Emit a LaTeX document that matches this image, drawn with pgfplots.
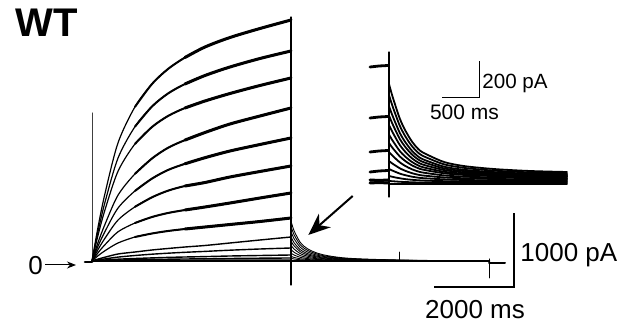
\documentclass[border=0pt]{standalone}
\usepackage{fontspec}
\setmainfont{Liberation Sans}
\usepackage{pgfplots}
\usepackage{pgfplotstable}
\pgfplotsset{compat=1.18}
\usetikzlibrary{arrows.meta}

% activating currents (x in px, y in px from top)
\pgfplotstableread{
x t1 t2 t3 t4 t5 t6 t7 t8 t9 t10 t11 t12 t13
92 261 261 261 261 261 261 261 261 261 261 261 261 261
98 227.3 231.6 235.4 242.6 246.2 249.6 252.8 255.8 259.1 260 260.5 260.8 260.9
105 193.5 202.2 209.8 224.3 231.5 238.2 244.7 250.7 257.2 258.9 260 260.5 260.8
118 142.9 158.1 171.3 195.2 208.1 220.1 231.8 243 254 257.1 259.2 260.1 260.7
135 106.8 126.6 143.9 173.8 190.9 206.8 223 237 252 255.5 258.5 259.7 260.6
152 84 106.5 127 158.5 178.6 197.3 217 233.5 250 254.2 257.9 259.4 260.5
168 69 93.5 116 147.8 170 190.7 213 231 248.5 253.2 257.4 259.2 260.4
185 57.5 84 108 140.1 163.8 186 210 229 247 252.3 257 259 260.3
205 47 75.5 101 132.5 157.7 182.5 207 227 245.5 251.4 256.6 258.8 260.2
230 37.5 67 93.5 124 151 177 203 224.5 243 250.2 256 258.5 260.1
260 28.5 58.5 85.5 116 144.5 171.5 198 221.5 240 249 255.5 258.2 260
291 20 51 78 108 138 166 193 218 237 248 255 258 260
}\rise

% tail currents
\pgfplotstableread{
x h1 h2 h3 h4 h5 h6 h7 h8 h9 h10
291.5 223 228 233 238 242 246 250 253.5 256.5 258.5
294 230.6 234.6 238.6 242.6 245.8 249 252.2 255 257.4 259
297 236.7 239.9 243.1 246.3 248.8 251.4 254 256.2 258.1 259.4
300 242 244.5 247 249.5 251.5 253.5 255.5 257.25 258.75 259.75
304 246.2 248.1 250.1 252 253.6 255.2 256.7 258.1 259.2 260
309 249.6 251.1 252.6 254.1 255.3 256.5 257.7 258.75 259.65 260.25
315 252.3 253.4 254.6 255.7 256.6 257.6 258.5 259.3 259.95 260.4
322 254.5 255.4 256.2 257.1 257.8 258.5 259.1 259.7 260.2 260.6
332 256.4 257 257.6 258.2 258.7 259.2 259.7 260.1 260.5 260.7
345 258 258.4 258.8 259.2 259.5 259.8 260.1 260.4 260.6 260.8
365 259.1 259.35 259.6 259.85 260.05 260.25 260.45 260.6 260.8 260.9
400 260.05 260.2 260.3 260.4 260.5 260.6 260.7 260.8 260.9 260.95
440 260.6 260.7 260.7 260.8 260.8 260.85 260.9 260.9 260.95 261
489 261 261 261 261 261 261 261 261 261 261
}\tail

% inset tail currents
\pgfplotstableread{
x i1 i2 i3 i4 i5 i6 i7 i8 i9 i10 i11 i12 i13
389 84 95 106 115.5 125 134.5 143 152 161 169 176 181 184
392 94.8 104.6 114.4 122.8 131.2 139.7 147.2 155.2 163.3 170.4 176.7 181.2 184
396 107.4 115.8 124.2 131.4 138.5 145.7 152.1 159 165.9 172.1 177.6 181.5 184
400 119.1 126.2 133.3 139.3 145.3 151.3 156.6 162.5 168.4 173.7 178.3 181.8 184
405 129.9 135.8 141.7 146.6 151.5 156.4 160.8 165.8 170.7 175.1 179.1 182 184
412 141.6 146.2 150.8 154.5 158.3 162 165.4 169.3 173.2 176.7 179.8 182.3 184
420 150.6 154.2 157.8 160.6 163.5 166.3 168.9 172 175.1 177.9 180.4 182.5 184
430 156 159 162 164.3 166.6 168.9 171 173.6 176.2 178.6 180.8 182.6 184
445 162.3 164.6 166.9 168.6 170.2 171.9 173.4 175.5 177.5 179.4 181.2 182.7 184
465 166.2 168 169.9 171.2 172.5 173.8 175 176.7 178.3 180 181.5 182.8 184
495 169.1 170.7 172.2 173.2 174.2 175.2 176.1 177.5 179 180.4 181.7 182.9 184
530 171 172.4 173.7 174.5 175.3 176.1 176.8 178.1 179.4 180.6 181.8 182.9 184
567 172 173.2 174.5 175.2 175.9 176.6 177.2 178.4 179.6 180.7 181.9 183 184
}\inset

\begin{document}
\begin{tikzpicture}
\begin{axis}[
  scale only axis, width=311.5pt, height=162.5pt,
  xmin=0, xmax=623, ymin=0, ymax=325, y dir=reverse,
  hide axis, clip=false,
  every axis plot/.append style={black, line join=round, line cap=round, mark=none},
]
\path (axis cs:0,0) rectangle (axis cs:623,325);

% baseline and transients
\addplot[line width=1.3pt] coordinates {(85,262) (92,262)};
\addplot[line width=1pt] coordinates {(92,261.2) (291,261.2)};
\addplot[line width=1.4pt] coordinates {(291,261) (489,261)};
\addplot[line width=0.5pt, black!75] coordinates {(92,113) (92,261)};
\addplot[line width=0.6pt] coordinates {(291,17) (291,285)};
\addplot[line width=0.4pt] coordinates {(399,252) (399,261)};
\addplot[line width=0.5pt] coordinates {(489,259) (489,278)};
\addplot[line width=1pt] coordinates {(489,263) (505,263)};

% activating currents
\pgfplotsinvokeforeach{1,...,8}{
  \addplot[line width=0.6pt, smooth] table[x=x, y=t#1] {\rise};
  \addplot[line width=1.0pt, smooth, restrict x to domain=130:292] table[x=x, y=t#1] {\rise};
  \addplot[line width=1.5pt, smooth, restrict x to domain=180:292] table[x=x, y=t#1] {\rise};
}
\pgfplotsinvokeforeach{9,...,13}{
  \addplot[line width=0.7pt, smooth] table[x=x, y=t#1] {\rise};
}

% tails
\pgfplotsinvokeforeach{1,...,10}{
  \addplot[line width=0.45pt, smooth] table[x=x, y=h#1] {\tail};
}

% inset
\addplot[line width=0.6pt] coordinates {(389,52) (389,197)};
\addplot[line width=1.4pt] coordinates {(370,67) (379,66) (388,65.5)};
\addplot[line width=1.4pt] coordinates {(370,118) (379,117) (388,116.5)};
\addplot[line width=1.4pt] coordinates {(370,152) (379,151) (388,150.5)};
\addplot[line width=1.4pt] coordinates {(370,172) (379,171) (388,170.5)};
\addplot[line width=1.5pt] coordinates {(370,180) (379,180.5) (388,180)};
\addplot[line width=1.5pt] coordinates {(370,183) (379,182.5) (388,183)};
\pgfplotsinvokeforeach{1,...,13}{
  \addplot[line width=0.9pt, smooth] table[x=x, y=i#1] {\inset};
}

% scale bars
\draw[line width=0.6pt] (axis cs:434,287) -- (axis cs:514,287) -- (axis cs:514,213);
\draw[line width=0.5pt] (axis cs:442,97.3) -- (axis cs:479.3,97.3) -- (axis cs:479.3,60.7);

% annotations
\draw[line width=1pt, -{Stealth[length=11pt,width=9pt]}] (axis cs:352.7,196) -- (axis cs:308.3,235);
\draw[line width=0.5pt, -{Stealth[length=4.5pt,width=3.5pt]}] (axis cs:45,265) -- (axis cs:76,265);

\node[font=\fontsize{20}{24}\selectfont\bfseries, inner sep=0pt] at (axis cs:46.5,22.5) {WT};
\node[font=\fontsize{13}{15}\selectfont, inner sep=0pt, anchor=base] at (axis cs:35.5,275) {0};
\node[font=\fontsize{13}{15}\selectfont, inner sep=0pt, anchor=base west] at (axis cs:520,261.7) {1000 pA};
\node[font=\fontsize{13}{15}\selectfont, inner sep=0pt, anchor=base] at (axis cs:475,318.3) {2000 ms};
\node[font=\fontsize{10.3}{12}\selectfont, inner sep=0pt, anchor=base west] at (axis cs:482,88.3) {200 pA};
\node[font=\fontsize{10.5}{12}\selectfont, inner sep=0pt, anchor=base] at (axis cs:464.5,120) {500 ms};
\end{axis}
\end{tikzpicture}
\end{document}
